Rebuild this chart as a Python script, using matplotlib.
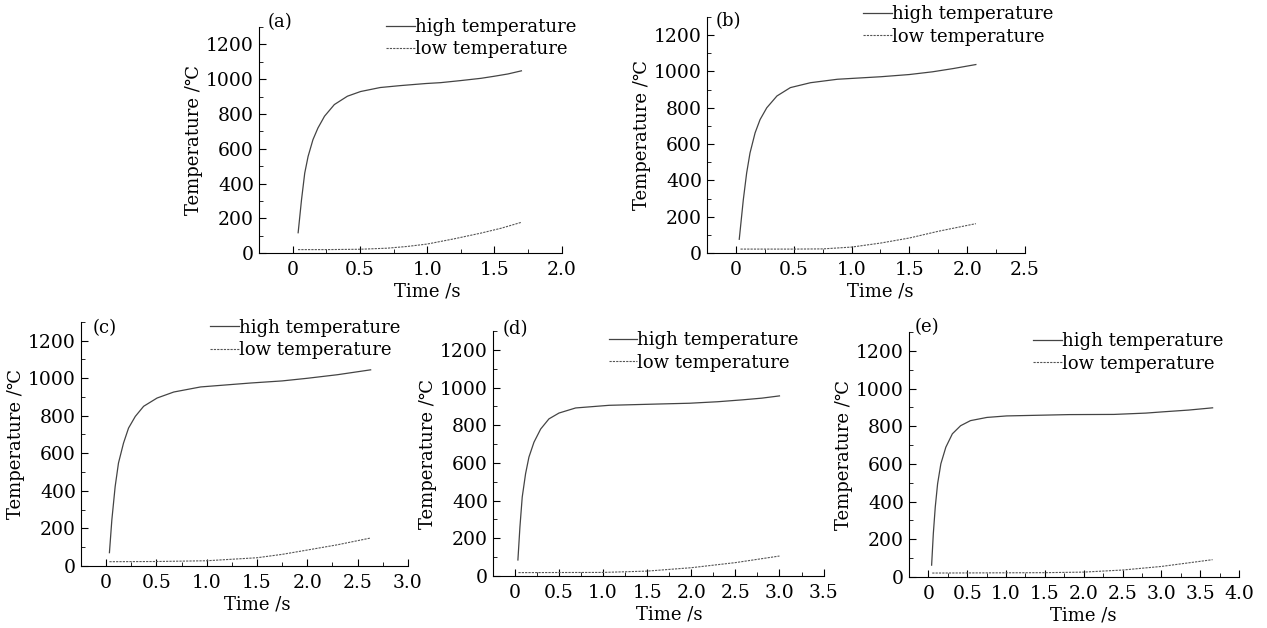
import numpy as np
import matplotlib.pyplot as plt
from matplotlib.ticker import MultipleLocator, FuncFormatter

plt.rcParams['font.family'] = ['DejaVu Serif', 'DejaVu Sans']
plt.rcParams['font.size'] = 12

# Panel (a)
t_high_a = [0.041, 0.066, 0.090, 0.115, 0.151, 0.188, 0.237, 0.31, 0.407, 0.505, 0.651, 0.80, 0.99, 1.10, 1.25, 1.40, 1.50, 1.60, 1.70]
T_high_a = [117, 306, 460, 556, 652, 719, 787, 854, 902, 929, 952, 963, 975, 980, 992, 1005, 1017, 1030, 1048]
t_low_a = [0.04, 0.25, 0.50, 0.70, 0.85, 1.00, 1.20, 1.40, 1.55, 1.70]
T_low_a = [20, 20, 22, 28, 38, 52, 82, 115, 143, 177]

# Panel (b)
t_high_b = [0.029, 0.064, 0.093, 0.122, 0.166, 0.209, 0.267, 0.355, 0.471, 0.645, 0.878, 1.256, 1.50, 1.70, 1.88, 2.075]
T_high_b = [76, 293, 441, 551, 662, 735, 800, 865, 911, 938, 957, 971, 983, 998, 1016, 1038]
t_low_b = [0.04, 0.50, 0.75, 1.00, 1.25, 1.50, 1.75, 2.075]
T_low_b = [22, 22, 23, 33, 55, 83, 120, 162]

# Panel (c)
t_high_c = [0.033, 0.057, 0.09, 0.123, 0.173, 0.223, 0.29, 0.373, 0.507, 0.673, 0.94, 1.44, 1.75, 2.00, 2.30, 2.63]
T_high_c = [71, 245, 423, 548, 654, 734, 796, 850, 894, 926, 953, 974, 985, 999, 1018, 1044]
t_low_c = [0.033, 0.50, 1.00, 1.25, 1.50, 1.75, 2.00, 2.30, 2.63]
T_low_c = [23, 24, 28, 36, 44, 62, 85, 113, 149]

# Panel (d)
t_high_d = [0.034, 0.057, 0.083, 0.121, 0.159, 0.216, 0.292, 0.386, 0.50, 0.689, 1.068, 1.636, 1.98, 2.30, 2.58, 2.80, 3.00]
T_high_d = [85, 261, 419, 543, 631, 710, 780, 834, 865, 892, 906, 913, 917, 925, 935, 944, 956]
t_low_d = [0.04, 1.00, 1.50, 2.00, 2.50, 3.00]
T_low_d = [18, 19, 26, 44, 71, 106]

# Panel (e)
t_high_e = [0.042, 0.064, 0.089, 0.119, 0.161, 0.225, 0.309, 0.415, 0.542, 0.754, 1.008, 1.81, 2.39, 2.80, 3.03, 3.35, 3.66]
T_high_e = [63, 231, 372, 495, 601, 689, 760, 803, 830, 847, 855, 862, 863, 870, 877, 886, 898]
t_low_e = [0.05, 1.50, 2.00, 2.50, 3.00, 3.66]
T_low_e = [21, 23, 26, 37, 56, 92]

panels = [
    ("(a)", t_high_a, T_high_a, t_low_a, T_low_a, 2.0, [0.2044, 0.597, 0.239, 0.360], (0.03, 1.06), (0.42, 1.04)),
    ("(b)", t_high_b, T_high_b, t_low_b, T_low_b, 2.5, [0.558, 0.597, 0.251, 0.376], (0.028, 1.02), (0.49, 1.05)),
    ("(c)", t_high_c, T_high_c, t_low_c, T_low_c, 3.0, [0.0639, 0.0987, 0.258, 0.389], (0.037, 1.01), (0.394, 1.012)),
    ("(d)", t_high_d, T_high_d, t_low_d, T_low_d, 3.5, [0.389, 0.0828, 0.261, 0.390], (0.03, 1.045), (0.35, 1.0)),
    ("(e)", t_high_e, T_high_e, t_low_e, T_low_e, 4.0, [0.7174, 0.0812, 0.2605, 0.390], (0.018, 1.057), (0.376, 1.0)),
]

xmin = -0.25


def xfmt(v, pos):
    if abs(v) < 1e-9:
        return "0"
    return "%.1f" % v


fig = plt.figure(figsize=(12.67, 6.28), dpi=100)

for label, th, Th, tl, Tl, xmax, rect, lab_pos, leg_pos in panels:
    ax = fig.add_axes(rect)
    ax.plot(th, Th, color='#444444', lw=0.9, label='high temperature')
    ax.plot(tl, Tl, color='#555555', lw=0.8, linestyle=(0, (2, 1)), label='low temperature')
    ax.set_xlim(xmin, xmax)
    ax.set_ylim(0, 1300)
    ax.spines['top'].set_visible(False)
    ax.spines['right'].set_visible(False)
    ax.xaxis.set_major_locator(MultipleLocator(0.5))
    ax.xaxis.set_minor_locator(MultipleLocator(0.25))
    ax.yaxis.set_major_locator(MultipleLocator(200))
    ax.yaxis.set_minor_locator(MultipleLocator(100))
    ax.xaxis.set_major_formatter(FuncFormatter(xfmt))
    ax.tick_params(which='major', direction='in', length=5, width=0.8, labelsize=13.5)
    ax.tick_params(axis='x', which='major', pad=6)
    ax.tick_params(which='minor', direction='in', length=3, width=0.6)
    ax.set_xlabel('Time /s', fontsize=13, labelpad=2)
    # x label sits under the middle of the 0..xmax range
    ax.xaxis.label.set_x((xmax / 2 - xmin) / (xmax - xmin))
    ax.set_ylabel('Temperature /℃', fontsize=13, labelpad=2)
    ax.text(lab_pos[0], lab_pos[1], label, transform=ax.transAxes, ha='left', va='top', fontsize=13)
    ax.legend(loc='upper left', bbox_to_anchor=leg_pos, frameon=False, fontsize=13,
              borderpad=0, borderaxespad=0, handlelength=1.6, handletextpad=0.0, labelspacing=0.25)

fig.savefig('out.png', dpi=100)
